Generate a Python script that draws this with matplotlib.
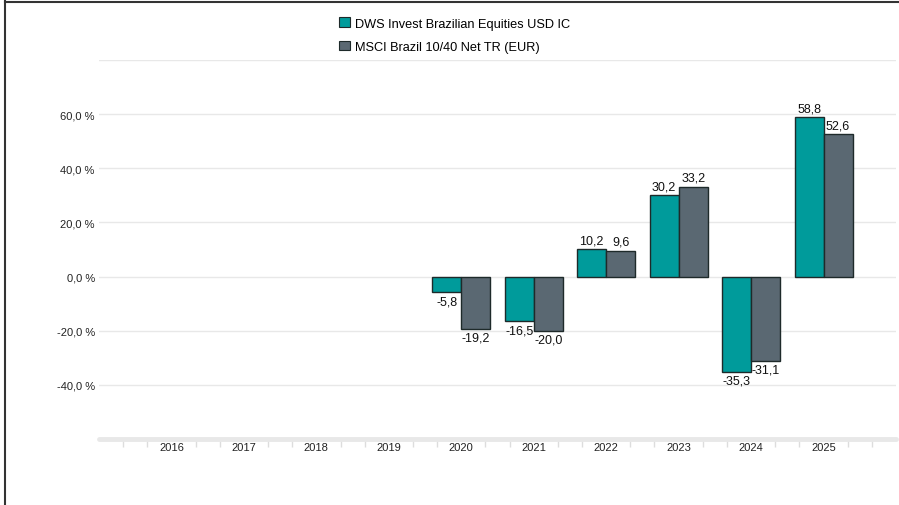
import numpy as np
import matplotlib
matplotlib.use("Agg")
import matplotlib.pyplot as plt
from matplotlib.lines import Line2D
from matplotlib.patches import Patch

years = ["2016", "2017", "2018", "2019", "2020", "2021", "2022", "2023", "2024", "2025"]
dws = [np.nan, np.nan, np.nan, np.nan, -5.8, -16.5, 10.2, 30.2, -35.3, 58.8]
msci = [np.nan, np.nan, np.nan, np.nan, -19.2, -20.0, 9.6, 33.2, -31.1, 52.6]
series_names = ["DWS Invest Brazilian Equities USD IC", "MSCI Brazil 10/40 Net TR (EUR)"]
yticks = [-40, -20, 0, 20, 40, 60]

teal = "#009B9B"
grey = "#5A6872"
plt.rcParams["font.family"] = ["Liberation Sans", "DejaVu Sans"]

W, H = 899, 506
fig = plt.figure(figsize=(W / 100, H / 100), dpi=100)
ax = fig.add_axes([99 / W, (H - 440) / H, (896 - 99) / W, (440 - 61) / H])

x = np.arange(len(years))
bw = 0.4
b1 = ax.bar(x - bw / 2, dws, bw, color=teal, edgecolor="#1e2a2a", linewidth=1.0, zorder=3)
b2 = ax.bar(x + bw / 2, msci, bw, color=grey, edgecolor="#1e2a2a", linewidth=1.0, zorder=3)

def fmt(v):
    return f"{v:.1f}".replace(".", ",")

for bars, vals in ((b1, dws), (b2, msci)):
    for rect, v in zip(bars, vals):
        if np.isnan(v):
            continue
        cx = rect.get_x() + rect.get_width() / 2
        if v >= 0:
            ax.annotate(fmt(v), (cx, v), xytext=(0, 2), textcoords="offset points",
                        ha="center", va="bottom", fontsize=9, color="#111111")
        else:
            ax.annotate(fmt(v), (cx, v), xytext=(0, -2), textcoords="offset points",
                        ha="center", va="top", fontsize=9, color="#111111")

ax.set_xlim(-1, 10)
ax.set_ylim(-60, 80)

# gridlines
for g in yticks + [80]:
    ax.axhline(g, color="#e8e8e8", linewidth=1.0, zorder=1)

# axis band
ax.plot([-1, 10], [-60, -60], color="#e8e8e8", linewidth=3.5, solid_capstyle="round",
        zorder=2, clip_on=False)

for s in ax.spines.values():
    s.set_visible(False)

ax.set_yticks(yticks)
ax.set_yticklabels([f"{fmt(v)} %" for v in yticks], fontsize=8, color="#222222")
ax.tick_params(axis="y", length=0, pad=3)

ax.set_xticks(x)
ax.set_xticklabels(years, fontsize=8, color="#222222")
ax.tick_params(axis="x", length=0, pad=2)
minor = [k / 3 for k in range(-3, 31) if k % 3 != 0]
ax.set_xticks(minor, minor=True)
ax.tick_params(axis="x", which="minor", length=6, width=1, color="#dddddd", direction="out")

# legend
handles = [Patch(facecolor=teal, edgecolor="#1e2a2a", linewidth=0.8),
           Patch(facecolor=grey, edgecolor="#1e2a2a", linewidth=0.8)]
fig.legend(handles, series_names, loc="upper left", bbox_to_anchor=(333 / W, 1 - 12 / H),
           frameon=False, fontsize=9.2, handlelength=0.8, handleheight=0.8,
           handletextpad=0.45, labelspacing=0.85, borderpad=0)

# outer frame lines
fig.add_artist(Line2D([4.5 / W, 4.5 / W], [0, 1 - 2 / H], transform=fig.transFigure,
                      color="#333333", linewidth=1.5))
fig.add_artist(Line2D([4.5 / W, 1], [1 - 2.5 / H, 1 - 2.5 / H], transform=fig.transFigure,
                      color="#333333", linewidth=1.5))

fig.savefig("out.png", dpi=100)
